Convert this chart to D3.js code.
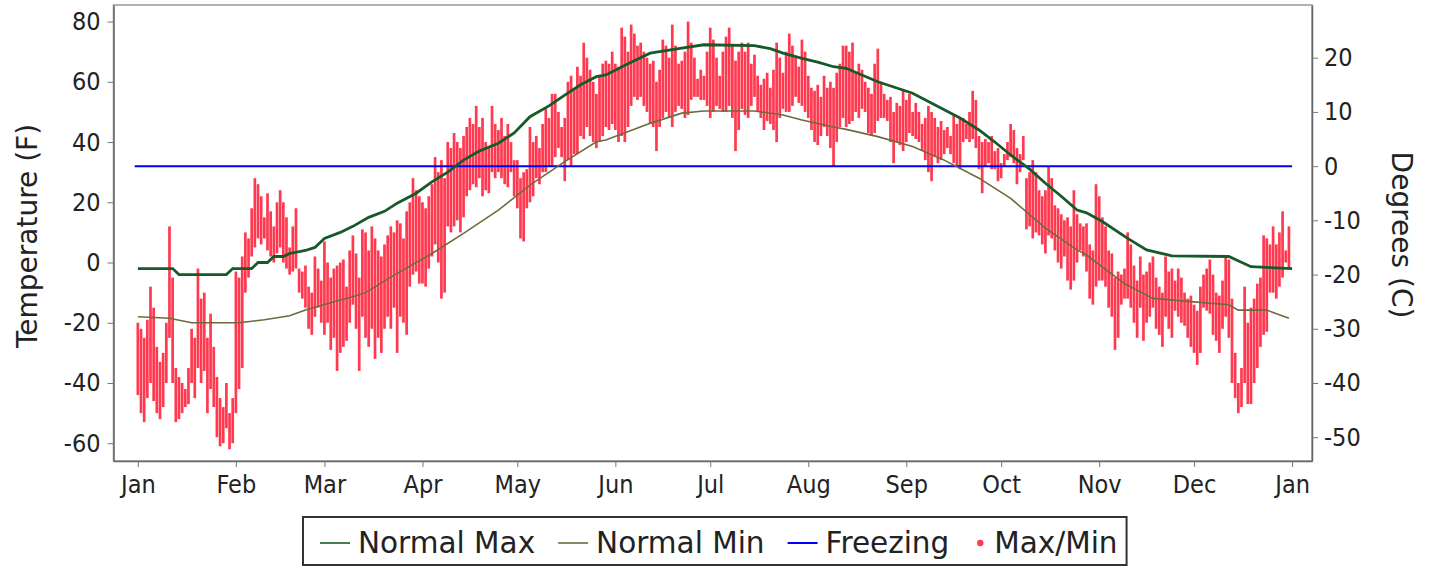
<!DOCTYPE html>
<html>
<head>
<meta charset="utf-8">
<script src="https://cdn.jsdelivr.net/npm/d3@7"></script>
<style>
  html, body { margin: 0; padding: 0; background: #fff; }
  svg { display: block; }
</style>
</head>
<body>
<svg id="chart" width="1430" height="568"></svg>
<script>
'use strict';

const monthLabels = ['Jan', 'Feb', 'Mar', 'Apr', 'May', 'Jun', 'Jul', 'Aug', 'Sep', 'Oct', 'Nov', 'Dec', 'Jan'];
const monthStartDays = [0, 31, 59, 90, 120, 151, 181, 212, 243, 273, 304, 334, 365];

const fahrenheitTicks = [-60, -40, -20, 0, 20, 40, 60, 80];
const celsiusTicks = [-50, -40, -30, -20, -10, 0, 10, 20];

// daily max / min (F), one entry per day, Jan 1 .. Dec 31
const maxTemps = [
    -20, -22, -25, -19, -8, -15, -28, -33, -30, -20, 12, -5, -35, -38, -40, -42, -35, -22, -25, -2, -12, -10, -25, -17, -28, -38, -45, -48, -40, -50, -45,
    -3, -5, 2, 10, 8, 18, 28, 26, 22, 15, 23, 17, 12, 20, 24, 20, 15, 5, 12, 18, -2, -3, -1, -8, -10, 2, -2, -6,
    7, 0, -5, -2, -1, 0, 1, -8, 4, 9, 3, -5, 11, 10, 4, 12, 8, 4, 2, 6, 9, 12, 10, 14, 13, 8, 17, 20, 28, 24, 22,
    20, 18, 22, 26, 35, 30, 34, 28, 40, 38, 43, 40, 38, 42, 45, 48, 46, 52, 45, 48, 40, 38, 52, 46, 44, 48, 42, 46, 40, 34,
    34, 28, 30, 31, 45, 40, 42, 38, 46, 51, 48, 56, 56, 50, 45, 48, 60, 62, 58, 65, 62, 73, 68, 64, 60, 56, 62, 66, 67, 66, 70,
    66, 65, 78, 75, 70, 79, 76, 72, 73, 70, 68, 66, 67, 60, 64, 74, 72, 68, 79, 72, 66, 67, 70, 80, 73, 68, 61, 64, 62, 70,
    78, 74, 68, 62, 70, 75, 78, 72, 67, 70, 73, 70, 73, 66, 69, 62, 59, 61, 63, 58, 64, 73, 68, 63, 70, 76, 72, 68, 65, 74, 70,
    62, 58, 57, 59, 55, 62, 58, 60, 58, 63, 66, 72, 72, 70, 73, 63, 66, 64, 60, 58, 56, 66, 71, 60, 56, 54, 55, 50, 53, 52, 57,
    54, 56, 50, 53, 50, 46, 48, 52, 50, 48, 45, 47, 44, 45, 42, 49, 46, 48, 48, 46, 50, 57, 54, 42, 40, 41, 40, 42, 37, 38,
    33, 36, 40, 46, 44, 38, 36, 42, 28, 30, 34, 30, 24, 22, 24, 32, 28, 19, 18, 16, 14, 15, 12, 24, 16, 13, 12, 13, 6, 4, 26,
    22, 15, 12, 4, 3, -5, -3, -4, -2, 10, 6, -1, -6, 2, -4, -3, 0, 2, -5, -8, -10, 2, -3, -2, -6, -2, -5, -10, -12, -11,
    -14, -16, -8, -4, -2, 1, -4, -10, -11, -6, 2, 1, -12, -30, -40, -35, -8, -20, -15, -12, -7, -5, 9, 8, 6, 12, 6, 10, 17, 4, 12
];
const minTemps = [
    -44, -50, -53, -45, -40, -46, -50, -52, -48, -40, -25, -40, -53, -52, -50, -48, -47, -40, -45, -35, -40, -36, -50, -42, -48, -58, -61, -60, -55, -62, -60,
    -50, -42, -35, -10, -5, 2, 5, 8, 6, 8, 4, 2, 0, 3, 5, 0, -2, -4, -3, -2, -10, -12, -15, -22, -24, -18, -15, -20,
    -24, -20, -29, -25, -36, -30, -28, -26, -20, -14, -22, -36, -18, -25, -28, -22, -32, -25, -30, -22, -18, -22, -15, -30, -18, -20, -24, -8, -4, -3, -7,
    -7, -8, -2, 2, 6, 0, -12, -10, 12, 10, 12, 14, 10, 15, 22, 24, 26, 25, 28, 22, 24, 23, 30, 28, 30, 28, 26, 25, 30, 22,
    18, 8, 7, 18, 20, 22, 28, 26, 30, 30, 32, 32, 35, 38, 35, 27, 34, 32, 36, 36, 42, 41, 45, 42, 40, 38, 40, 42, 45, 44, 46,
    44, 40, 42, 40, 45, 52, 55, 54, 55, 52, 50, 46, 45, 37, 45, 48, 50, 48, 45, 50, 52, 51, 48, 49, 54, 55, 55, 54, 54, 52,
    48, 50, 52, 51, 50, 50, 52, 48, 37, 44, 51, 49, 48, 52, 55, 50, 48, 44, 47, 46, 44, 40, 48, 51, 50, 50, 52, 55, 53, 52, 50,
    48, 44, 40, 39, 42, 45, 42, 38, 32, 40, 45, 48, 45, 46, 47, 50, 48, 51, 50, 43, 42, 43, 47, 48, 48, 47, 40, 33, 40, 39, 37,
    40, 43, 42, 41, 40, 37, 34, 30, 27, 35, 33, 34, 36, 38, 36, 33, 32, 31, 40, 41, 40, 41, 38, 31, 23, 32, 33, 31, 31, 27,
    28, 32, 34, 35, 33, 26, 30, 34, 11, 12, 8, 10, 9, 6, 3, 9, 8, 4, 0, -2, 2, -6, -9, -6, 0, 4, 2, -3, -12, -14, -8,
    -6, -6, -8, -15, -18, -29, -25, -14, -12, -12, -15, -20, -25, -15, -26, -20, -18, -15, -22, -24, -28, -18, -22, -25, -16, -18, -20, -21, -25, -28,
    -30, -34, -30, -15, -16, -17, -24, -26, -30, -22, -18, -25, -40, -45, -50, -48, -40, -47, -47, -40, -35, -28, -24, -23, -10, -10, -12, -8, -5, 0, -2
];

// normals: [day of year, F]
const normalMax = [
    [0, -2], [11, -2], [13, -4], [28, -4], [30, -2], [36, -2], [38, 0], [41, 0], [43, 2], [46, 2], [48, 3], [53, 4], [56, 5],
    [59, 8], [64, 10], [68, 12], [73, 15], [78, 17], [82, 19.7], [88, 23], [93, 26.8], [98, 30], [103, 34], [108, 37],
    [114, 39.6], [119, 43], [124, 48.4], [130, 52], [135, 55.6], [140, 59], [145, 61.7], [148, 62.3], [155, 66], [162, 69.5],
    [172, 71.2], [179, 72.3], [195, 72], [200, 71], [204, 69.5], [210, 67.8], [215, 66.5], [220, 65], [224, 64.5], [234, 60],
    [245, 56.2], [255, 50.7], [260, 48], [266, 44], [271, 40], [276, 35.7], [282, 31], [287, 26.3], [292, 22], [297, 17.4],
    [300, 16.5], [305, 13.6], [313, 8], [319, 4.2], [327, 2.2], [345, 2], [352, -1.4], [365, -2]
];
const normalMin = [
    [0, -18], [10, -18.5], [17, -20], [32, -20], [40, -19], [48, -17.7], [53, -15.8], [62, -13], [68, -11.4], [72, -10],
    [82, -3.6], [93, 3], [103, 9.7], [114, 17.4], [124, 25.7], [135, 33.5], [145, 40.1], [148, 40.7], [162, 46.2],
    [172, 49.6], [179, 50.3], [195, 50.3], [204, 49], [210, 47.3], [220, 45], [224, 44.2], [234, 41.8], [245, 38.5],
    [255, 34], [266, 28], [276, 21.3], [287, 11.4], [297, 4.2], [300, 2.5], [312, -7], [321, -11.9], [333, -13],
    [345, -14], [348, -15.8], [357, -15.8], [364, -18.5]
];
const freezingF = 32;

const legendItems = ['Normal Max', 'Normal Min', 'Freezing', 'Max/Min'];

const colors = {
    normalMax: '#175a29',
    normalMin: '#6f6a3e',
    freezing: '#0000ff',
    maxMin: '#ff3a50'
};

const vis = d3.select('#chart');
const plot = {left: 113.5, right: 1312, top: 5, bottom: 461};

const x = d3.scaleLinear().domain([-7.7, 371.3]).range([plot.left, plot.right]);
const y = d3.scaleLinear().domain([-65.9, 85.5]).range([plot.bottom, plot.top]);
const toC = f => (f - 32) * 5 / 9;
const yC = d3.scaleLinear().domain(y.domain().map(toC)).range([plot.bottom, plot.top]);

const tickFont = "'Liberation Sans Narrow', 'DejaVu Sans Condensed', sans-serif";
const titleFont = "'DejaVu Sans', sans-serif";

// plot frame
vis.append('rect')
    .attr('x', plot.left).attr('y', plot.top)
    .attr('width', plot.right - plot.left).attr('height', plot.bottom - plot.top)
    .attr('fill', '#fff')
    .attr('stroke', '#999')
    .attr('stroke-width', 1.5);

// daily max/min bars
const days = d3.range(maxTemps.length);
vis.append('g')
    .selectAll('rect')
    .data(days)
    .enter().append('rect')
    .attr('x', d => x(d) - 1.35)
    .attr('width', 2.7)
    .attr('y', d => y(maxTemps[d]))
    .attr('height', d => Math.max(1, y(minTemps[d]) - y(maxTemps[d])))
    .attr('fill', colors.maxMin);

// freezing line
vis.append('line')
    .attr('x1', x(-1)).attr('x2', x(365))
    .attr('y1', y(freezingF)).attr('y2', y(freezingF))
    .attr('stroke', colors.freezing)
    .attr('stroke-width', 2);

const line = d3.line().x(d => x(d[0])).y(d => y(d[1]));

vis.append('path')
    .datum(normalMin)
    .attr('d', line)
    .attr('fill', 'none')
    .attr('stroke', colors.normalMin)
    .attr('stroke-width', 1.6);

vis.append('path')
    .datum(normalMax)
    .attr('d', line)
    .attr('fill', 'none')
    .attr('stroke', colors.normalMax)
    .attr('stroke-width', 2.8);

// axes
const styleAxis = (g) => {
    g.select('.domain').attr('stroke', '#666').attr('stroke-width', 1.5);
    g.selectAll('.tick line').attr('stroke', '#777');
    g.selectAll('.tick text')
        .attr('fill', '#222')
        .style('font-family', tickFont)
        .style('font-size', '25px');
};

vis.append('g')
    .attr('transform', `translate(0,${plot.bottom})`)
    .call(d3.axisBottom(x)
        .tickValues(monthStartDays)
        .tickFormat((d, i) => monthLabels[i])
        .tickSizeInner(6).tickSizeOuter(0)
        .tickPadding(8))
    .call(styleAxis);

vis.append('g')
    .attr('transform', `translate(${plot.left},0)`)
    .call(d3.axisLeft(y)
        .tickValues(fahrenheitTicks)
        .tickFormat(d => String(d))
        .tickSizeInner(6).tickSizeOuter(0)
        .tickPadding(7))
    .call(styleAxis);

vis.append('g')
    .attr('transform', `translate(${plot.right},0)`)
    .call(d3.axisRight(yC)
        .tickValues(celsiusTicks)
        .tickFormat(d => String(d))
        .tickSizeInner(6).tickSizeOuter(0)
        .tickPadding(6))
    .call(styleAxis);

// axis titles
const midY = (plot.top + plot.bottom) / 2;
vis.append('text')
    .attr('transform', `translate(37,${midY + 3}) rotate(-90)`)
    .attr('text-anchor', 'middle')
    .style('font-family', titleFont)
    .style('font-size', '28px')
    .attr('fill', '#222')
    .text('Temperature (F)');

vis.append('text')
    .attr('transform', `translate(1392,${midY + 2}) rotate(90)`)
    .attr('text-anchor', 'middle')
    .style('font-family', titleFont)
    .style('font-size', '28px')
    .attr('fill', '#222')
    .text('Degrees (C)');

// legend
const legend = vis.append('g');
const legendBox = legend.append('rect')
    .attr('fill', '#fff')
    .attr('stroke', '#333')
    .attr('stroke-width', 2);

const legendColors = [colors.normalMax, colors.normalMin, colors.freezing, colors.maxMin];
const legendY = 543;
let cursor = 320;
legendItems.forEach((label, i) => {
    if (i < 3) {
        legend.append('line')
            .attr('x1', cursor).attr('x2', cursor + 30)
            .attr('y1', legendY).attr('y2', legendY)
            .attr('stroke', legendColors[i])
            .attr('stroke-width', i === 2 ? 2 : 1.6);
        cursor += 38;
    } else {
        legend.append('circle')
            .attr('cx', cursor + 8).attr('cy', legendY)
            .attr('r', 3.2)
            .attr('fill', legendColors[i]);
        cursor += 22;
    }
    const t = legend.append('text')
        .attr('x', cursor).attr('y', legendY)
        .attr('dy', '0.35em')
        .style('font-family', titleFont)
        .style('font-size', '29.5px')
        .attr('fill', '#222')
        .text(label);
    cursor += t.node().getComputedTextLength() + 23;
});

legendBox
    .attr('x', 303).attr('y', 517)
    .attr('width', cursor - 303 - 14).attr('height', 48);
</script>
</body>
</html>
